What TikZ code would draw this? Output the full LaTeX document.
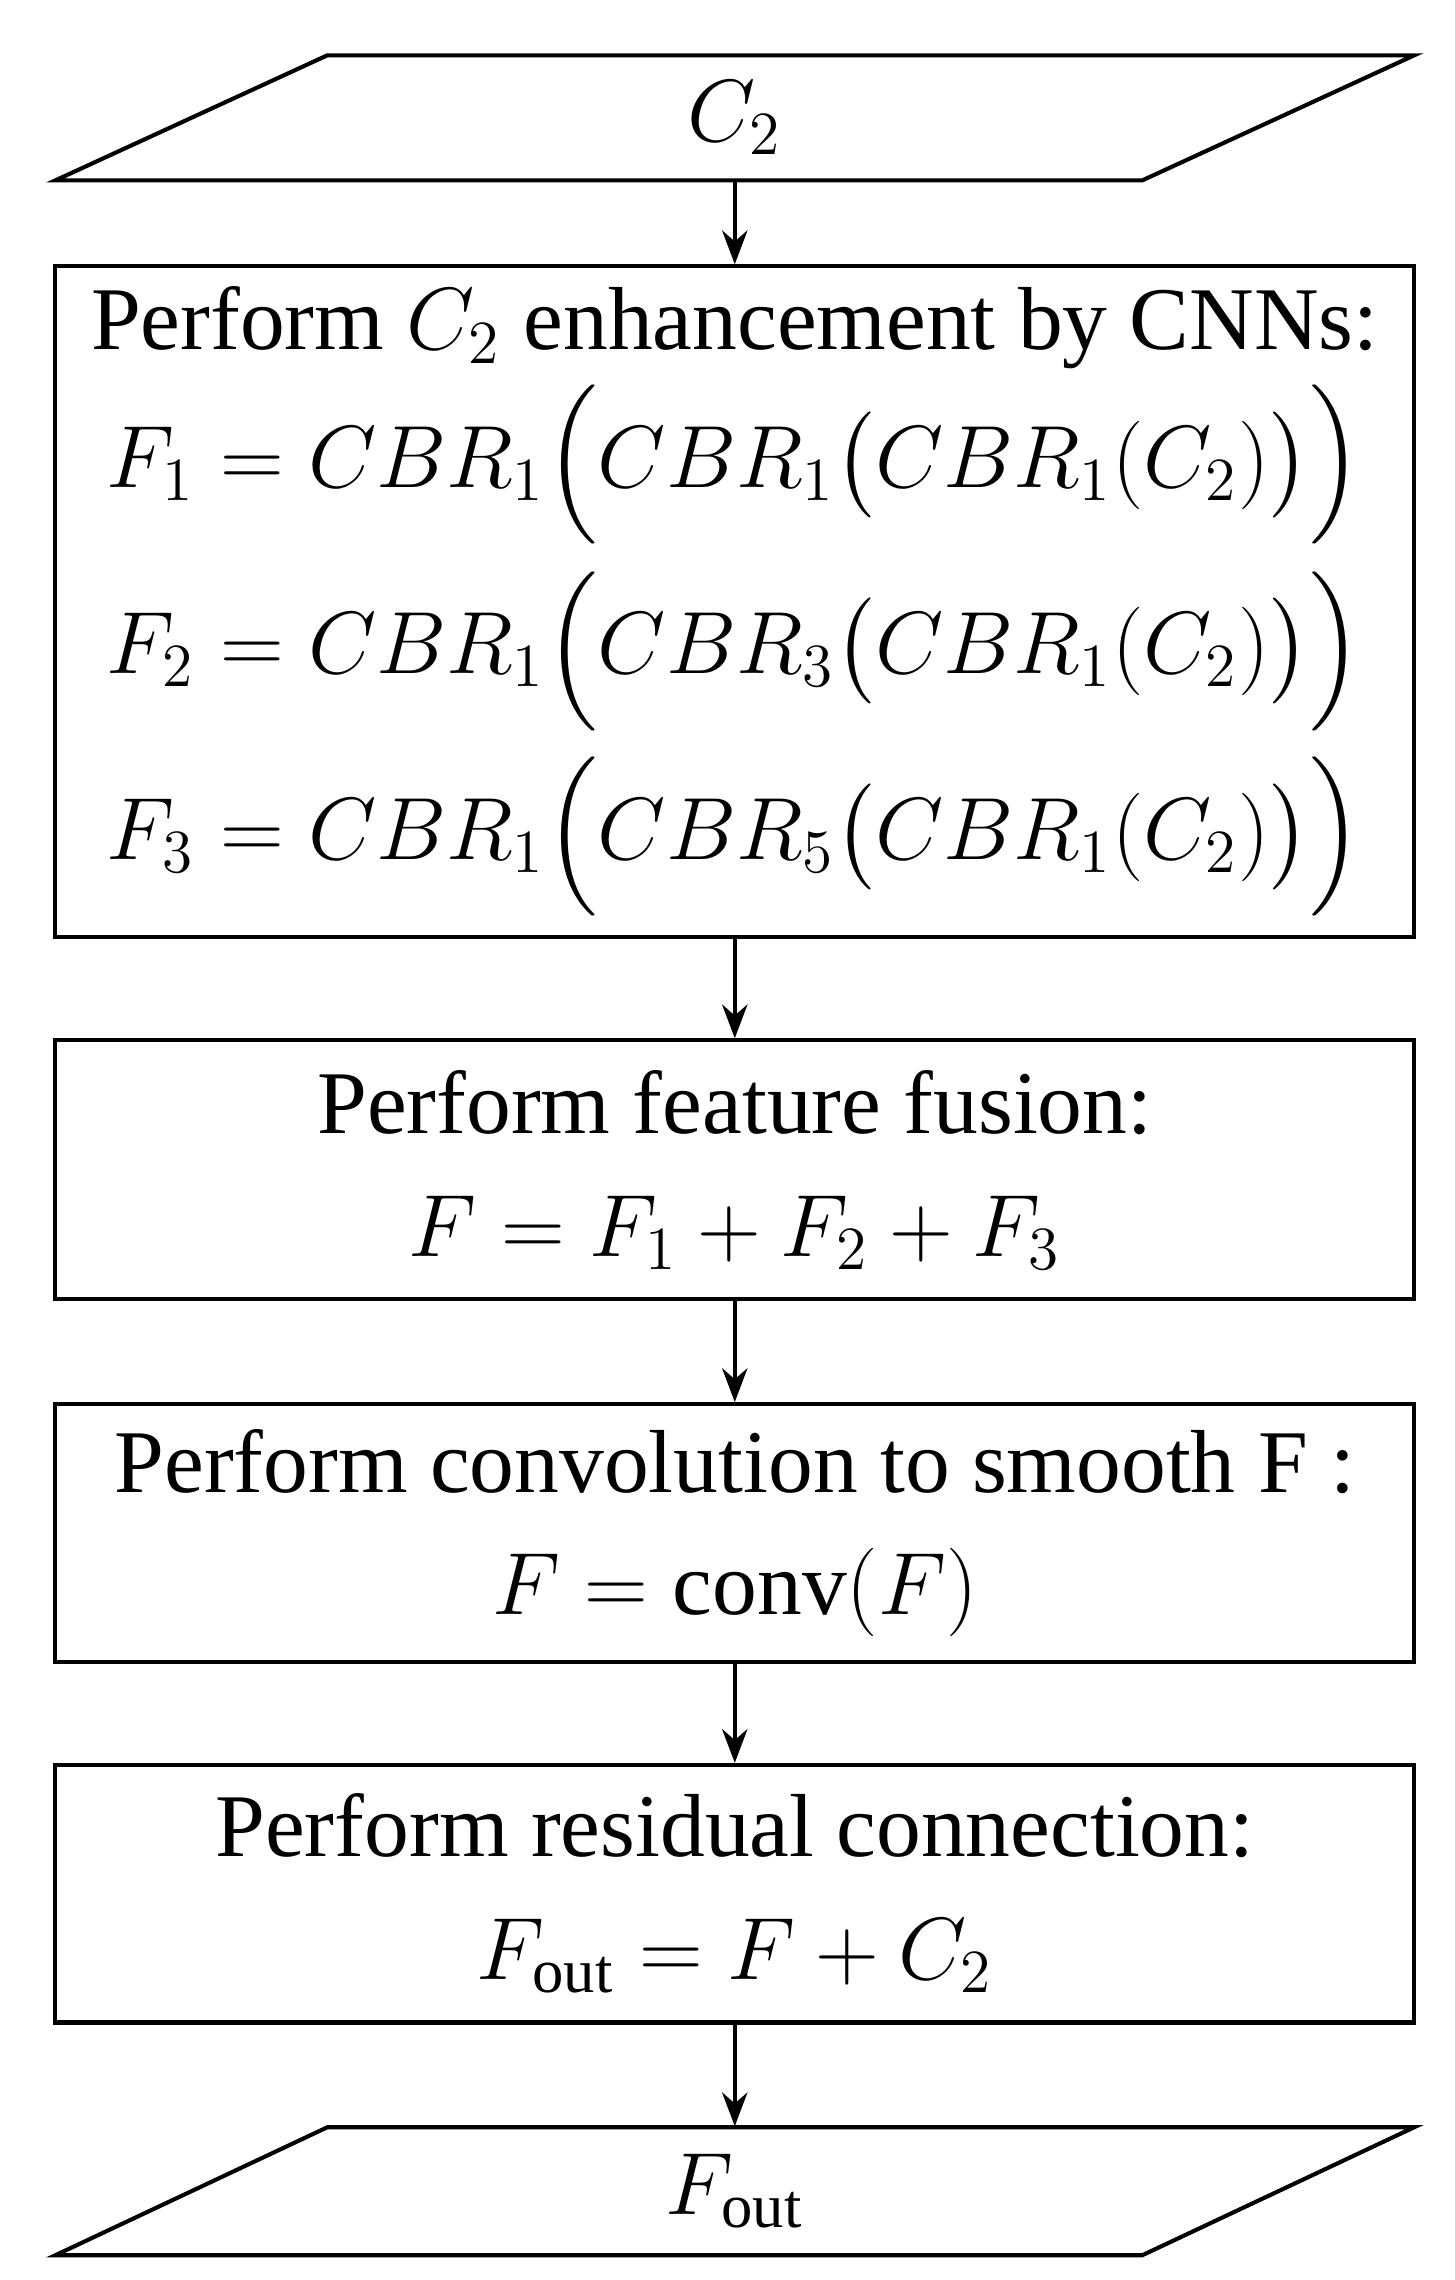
\documentclass[tikz,border=0pt]{standalone}
\usepackage{amsmath}
\usepackage{fontspec}
\setmainfont{Liberation Serif}
\usetikzlibrary{positioning,arrows.meta}
\begin{document}
\begin{tikzpicture}[>=Stealth, every node/.style={font=\fontsize{17.5}{24}\selectfont}]
\tikzset{
  stepbox/.style={
    draw,
    thick,
    minimum width=9.34cm,
    align=center,
    inner sep=0pt,
  },
  ioshape/.style={draw, thick},
  flow/.style={->, thick}
}
\newcommand{\mathline}[1]{{\fontsize{16.5}{20}\selectfont$#1$}}
\useasboundingbox (0,0) rectangle (10,-15.67);
% input / output parallelograms
\draw[ioshape] (2.25,-0.38) -- (9.72,-0.38) -- (7.85,-1.24) -- (0.38,-1.24) -- cycle;
\node (in) at (5.05,-0.81) [minimum height=0.86cm, inner sep=0pt] {$C_2$};
\draw[ioshape] (2.25,-14.62) -- (9.72,-14.62) -- (7.85,-15.50) -- (0.38,-15.50) -- cycle;
\node (out) at (5.05,-15.06) [minimum height=0.88cm, inner sep=0pt] {$F_{\text{out}}$};
% steps
\node[stepbox, minimum height=4.61cm] (cnn) at (5.05,-4.135) {Perform $C_2$ enhancement by CNNs:\\[0.1cm]
\mathline{F_1=CBR_1\Bigl(CBR_1\bigl(CBR_1(C_2)\bigr)\Bigr)}\\[0.15cm]
\mathline{F_2=CBR_1\Bigl(CBR_3\bigl(CBR_1(C_2)\bigr)\Bigr)}\\[0.15cm]
\mathline{F_3=CBR_1\Bigl(CBR_5\bigl(CBR_1(C_2)\bigr)\Bigr)}};
\node[stepbox, minimum height=1.78cm] (fuse) at (5.05,-8.04) {Perform feature fusion:\\$F=F_1+F_2+F_3$};
\node[stepbox, minimum height=1.77cm] (conv) at (5.05,-10.535) {Perform convolution to smooth F :\\$F=\mathrm{conv}(F)$};
\node[stepbox, minimum height=1.77cm] (res) at (5.05,-13.015) {Perform residual connection:\\$F_{\text{out}}=F+C_2$};
\draw[flow] (in) -- (cnn);
\draw[flow] (cnn) -- (fuse);
\draw[flow] (fuse) -- (conv);
\draw[flow] (conv) -- (res);
\draw[flow] (res) -- (out);
\end{tikzpicture}
\end{document}
